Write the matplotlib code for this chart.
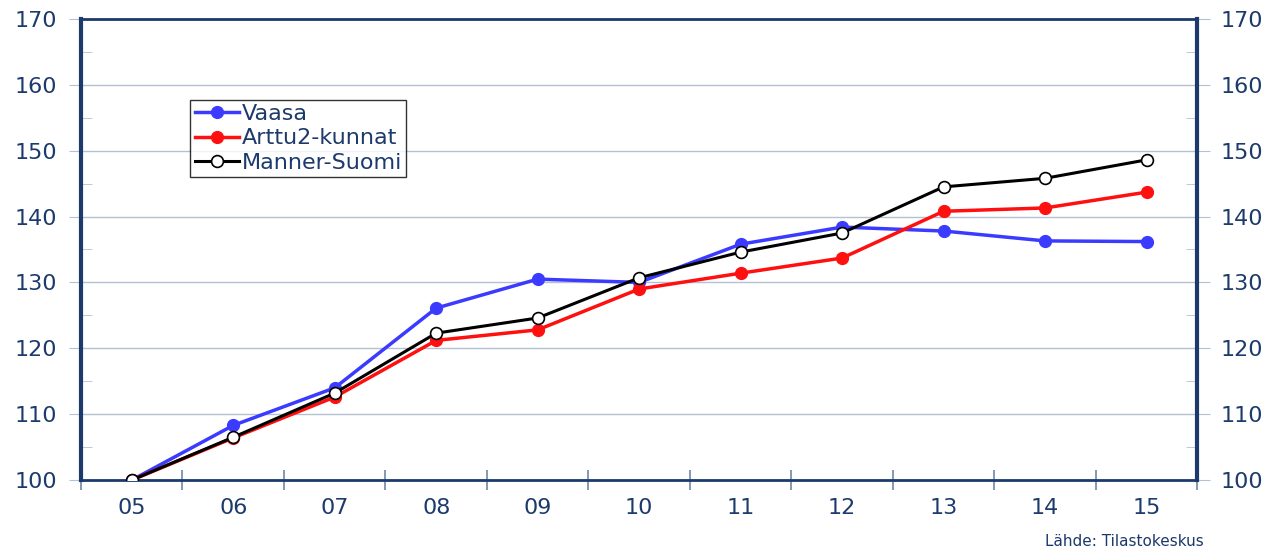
import numpy as np
import matplotlib
matplotlib.use("Agg")
from matplotlib import pyplot as plt
from matplotlib.ticker import MultipleLocator

years = ["05", "06", "07", "08", "09", "10", "11", "12", "13", "14", "15"]
vaasa = [100, 108.3, 114.0, 126.1, 130.5, 130.0, 135.8, 138.4, 137.8, 136.3, 136.2]
arttu2 = [100, 106.4, 112.6, 121.2, 122.8, 129.0, 131.4, 133.7, 140.8, 141.3, 143.7]
manner = [100, 106.5, 113.2, 122.3, 124.6, 130.7, 134.6, 137.5, 144.5, 145.8, 148.6]

navy = "#1c3a6b"
grid_c = "#b4c1d3"

plt.rcParams['font.family'] = ['DejaVu Sans']

fig = plt.figure(figsize=(12.86, 5.55), dpi=100)
ax = fig.add_axes([0.063, 0.135, 0.868, 0.831])

x = np.arange(len(years))
ax.plot(x, vaasa, color="#3b3bff", lw=2.5, marker="o", ms=8.5, label="Vaasa", zorder=3)
ax.plot(x, arttu2, color="#ff1010", lw=2.5, marker="o", ms=8.5, label="Arttu2-kunnat", zorder=3)
ax.plot(x, manner, color="black", lw=2.2, marker="o", ms=8.5, mfc="white", mec="black",
        mew=1.2, label="Manner-Suomi", zorder=4)

ax.set_xlim(-0.5, len(years) - 0.5)
ax.set_ylim(100, 170)
ax.set_xticks(x)
ax.set_xticklabels(years)
ax.set_xticks(np.arange(-0.5, len(years), 1), minor=True)
ax.yaxis.set_major_locator(MultipleLocator(10))
ax.yaxis.set_minor_locator(MultipleLocator(5))

ax.grid(axis="y", which="major", color=grid_c, lw=1.0)
ax.set_axisbelow(True)

for s in ["left", "right", "top", "bottom"]:
    ax.spines[s].set_color(navy)
ax.spines["left"].set_linewidth(3)
ax.spines["right"].set_linewidth(3)
ax.spines["top"].set_linewidth(2)
ax.spines["bottom"].set_linewidth(2)

ax.tick_params(axis="y", which="major", direction="out", length=9, color=grid_c,
               labelsize=16, labelcolor=navy, left=True, right=True,
               labelleft=True, labelright=True, pad=8)
ax.tick_params(axis="y", which="minor", direction="in", length=8, color=grid_c,
               left=True, right=True)
ax.tick_params(axis="x", which="major", length=0, labelsize=16, labelcolor=navy, pad=13)
ax.tick_params(axis="x", which="minor", direction="inout", length=14, color="#6f86a8", width=1.2)

leg = ax.legend(loc="upper left", bbox_to_anchor=(0.098, 0.825), fontsize=16,
                frameon=True, fancybox=False, edgecolor="black", handlelength=2.0,
                handletextpad=0.1, borderpad=0.2, labelspacing=0.2, borderaxespad=0)
leg.get_frame().set_linewidth(1.0)
for t in leg.get_texts():
    t.set_color(navy)

fig.text(0.936, 0.01, "Lähde: Tilastokeskus", ha="right", va="bottom",
         fontsize=11, color=navy)

fig.savefig("out.png", dpi=100)
